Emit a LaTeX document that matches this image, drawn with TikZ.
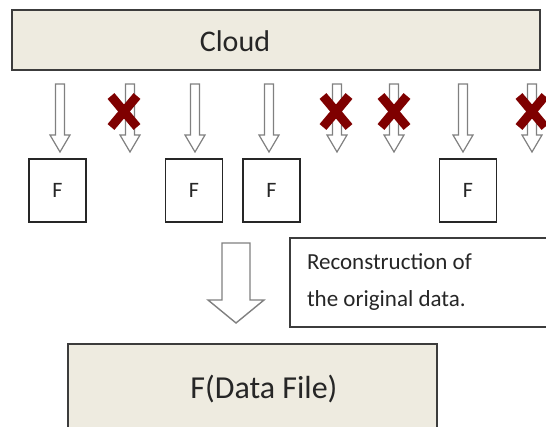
\documentclass[tikz,border=0pt]{standalone}
\usepackage{fontspec}
\setmainfont{Carlito}
\usepackage{xcolor}
\usepackage{tikz}
\usetikzlibrary{positioning}
\definecolor{cloudfill}{HTML}{EEEBE0}
\definecolor{boxline}{HTML}{3C3C3C}
\definecolor{crossred}{HTML}{7F0000}
\definecolor{arrowgrey}{HTML}{808080}

\begin{document}
\begin{tikzpicture}[
		x=1pt, y=-1pt,
		every node/.style = {
			inner sep=0pt,
			outer sep=0pt,
			text=black!85
		},
		greybox/.style = {
			shape=rectangle,
			draw=boxline,
			line width=2pt,
			fill=cloudfill
		},
		fbox/.style = {
			shape=rectangle,
			draw=black!85,
			line width=1.3pt,
			minimum width=57pt,
			minimum height=63pt,
			font=\fontsize{22}{26}\selectfont
		},
		notebox/.style = {
			shape=rectangle,
			draw=boxline,
			line width=1.4pt,
			text width=245pt,
			inner xsep=17pt,
			minimum height=89pt,
			align=flush left,
			font=\fontsize{23}{37}\selectfont
		},
		hollow/.style = {
			draw=arrowgrey,
			line width=1.2pt,
			fill=white
		},
		cross/.style = {
			draw=crossred,
			line width=9pt
		}
		]
		\useasboundingbox (0,0) rectangle (546,426);

		% cloud on top
		\node[greybox, minimum width=528pt, minimum height=60pt] (cloud) at (276,40) {};
		\node[font=\fontsize{30}{36}\selectfont, anchor=base] (cloudtext) at (235,51) {Cloud};

		% fragments
		\foreach \fx/\fname in {57.5/fa, 194/fb, 271.5/fc, 468/fd}
			\node[fbox] (\fname) at (\fx,190.5) {F};

		% small arrows from the cloud
		\foreach \ax in {60,130,195,269,337,394,463,532}
			\draw[hollow] (\ax-4.5,84) -- (\ax-4.5,135) -- (\ax-10,135) -- (\ax,152)
				-- (\ax+10,135) -- (\ax+4.5,135) -- (\ax+4.5,84) -- cycle;

		% lost fragments
		\foreach \cx in {124,336,394,532} {
			\draw[cross] (\cx-13,96) -- (\cx+13,127);
			\draw[cross] (\cx+13,96) -- (\cx-13,127);
		}

		% reconstruction
		\node[notebox, anchor=north west] (note) at (290,238) {Reconstruction of\\the original data.};
		\draw[hollow, line width=1.4pt] (222,243) -- (222,300) -- (208,300) -- (236,323)
			-- (264,300) -- (250,300) -- (250,243) -- cycle;

		% data file
		\node[greybox, anchor=north west, minimum width=369pt, minimum height=100pt] (datafile) at (68,344) {};
		\node[font=\fontsize{32}{38}\selectfont, anchor=base] (datatext) at (264,398) {F(Data File)};
	\end{tikzpicture}
\end{document}
